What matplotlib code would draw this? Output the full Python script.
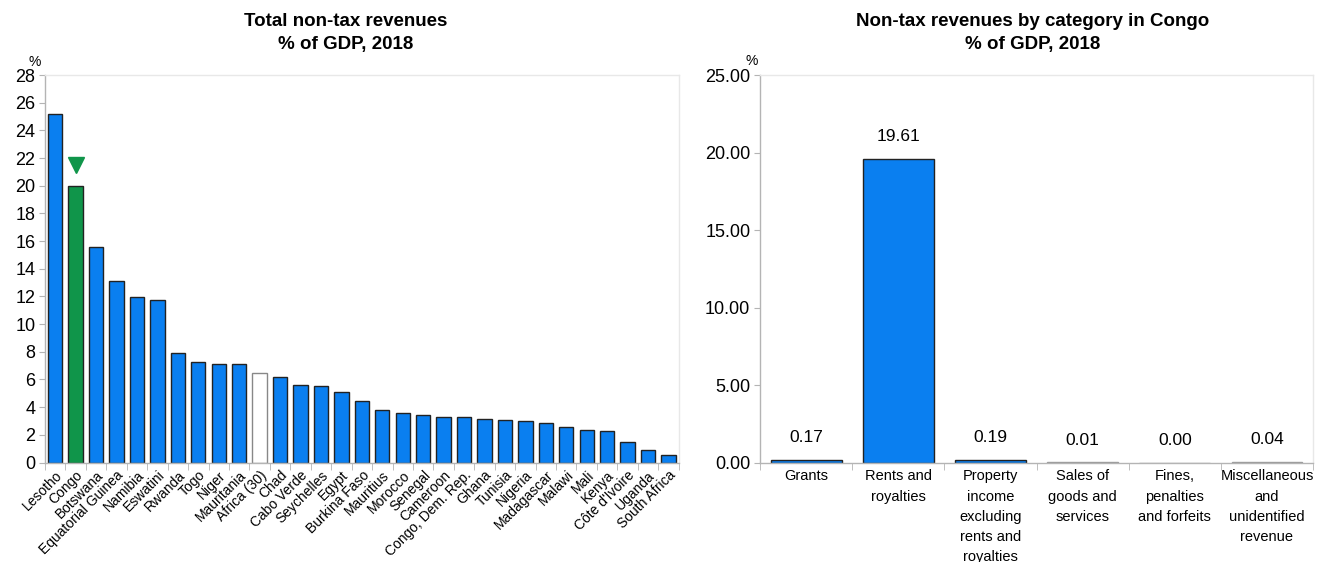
import matplotlib

matplotlib.use("Agg")
import matplotlib.pyplot as plt
import numpy as np

plt.rcParams["font.family"] = ["Liberation Sans", "DejaVu Sans"]

countries = [
    "Lesotho", "Congo", "Botswana", "Equatorial Guinea", "Namibia", "Eswatini",
    "Rwanda", "Togo", "Niger", "Mauritania", "Africa (30)", "Chad", "Cabo Verde",
    "Seychelles", "Egypt", "Burkina Faso", "Mauritius", "Morocco", "Senegal",
    "Cameroon", "Congo, Dem. Rep.", "Ghana", "Tunisia", "Nigeria", "Madagascar",
    "Malawi", "Mali", "Kenya", "Côte d'Ivoire", "Uganda", "South Africa",
]
total_nontax = [
    25.18, 20.00, 15.58, 13.10, 11.96, 11.72, 7.92, 7.29, 7.15, 7.13, 6.45,
    6.16, 5.61, 5.56, 5.10, 4.45, 3.76, 3.61, 3.47, 3.32, 3.27, 3.15, 3.08,
    3.03, 2.86, 2.60, 2.38, 2.31, 1.47, 0.94, 0.55,
]
highlight = "Congo"
average = "Africa (30)"
marker_value = 21.5

categories = [
    "Grants",
    "Rents and\nroyalties",
    "Property\nincome\nexcluding\nrents and\nroyalties",
    "Sales of\ngoods and\nservices",
    "Fines,\npenalties\nand forfeits",
    "Miscellaneous\nand\nunidentified\nrevenue",
]
congo_values = [0.17, 19.61, 0.19, 0.01, 0.00, 0.04]

BLUE = "#0a7ff0"
GREEN = "#10954a"
EDGE = "#222222"
AXIS = "#b4b4b4"
FRAME = "#e8e8e8"


def style_axes(ax):
    ax.spines["left"].set_color(AXIS)
    ax.spines["bottom"].set_color(AXIS)
    ax.spines["top"].set_color(FRAME)
    ax.spines["right"].set_color(FRAME)
    for s in ax.spines.values():
        s.set_linewidth(1.0)
    ax.tick_params(axis="y", which="major", length=4, color=AXIS, labelsize=13, pad=3)
    ax.tick_params(axis="x", which="major", length=0)
    ax.tick_params(axis="x", which="minor", length=5, color=AXIS)


fig = plt.figure(figsize=(13.23, 5.62), dpi=100)

# left panel
ax1 = fig.add_axes([0.034, 0.177, 0.479, 0.6895])
x = np.arange(len(countries))
colors = []
edges = []
for c in countries:
    if c == highlight:
        colors.append(GREEN)
        edges.append(EDGE)
    elif c == average:
        colors.append("white")
        edges.append("#888888")
    else:
        colors.append(BLUE)
        edges.append(EDGE)
ax1.bar(x, total_nontax, width=0.7, color=colors, edgecolor=edges, linewidth=1.0)
ci = countries.index(highlight)
ax1.plot([x[ci]], [marker_value], marker="v", markersize=12, color=GREEN, linestyle="none")
ax1.set_xlim(-0.5, len(countries) - 0.5)
ax1.set_ylim(0, 28)
ax1.set_yticks(np.arange(0, 29, 2))
ax1.set_xticks(x)
ax1.set_xticklabels(countries, rotation=45, ha="right", rotation_mode="anchor", fontsize=10)
ax1.set_xticks(np.arange(-0.5, len(countries), 1), minor=True)
style_axes(ax1)
ax1.tick_params(axis="x", which="major", pad=4)
fig.text(346 / 1323, 1 - 33 / 562, "Total non-tax revenues\n% of GDP, 2018", fontsize=13.5,
         fontweight="bold", ha="center", va="center", linespacing=1.45)
fig.text(35 / 1323, 1 - 62 / 562, "%", fontsize=10, ha="center", va="center")

# right panel
ax2 = fig.add_axes([0.5745, 0.177, 0.418, 0.6895])
x2 = np.arange(len(categories))
edge2 = [EDGE if v >= 0.1 else "#999999" for v in congo_values]
ax2.bar(x2, congo_values, width=0.77, color=BLUE, edgecolor=edge2, linewidth=1.0)
for xi, v in zip(x2, congo_values):
    ax2.annotate(f"{v:.2f}", (xi, v), xytext=(0, 16), textcoords="offset points",
                 ha="center", va="center", fontsize=12.5)
ax2.set_xlim(-0.5, len(categories) - 0.5)
ax2.set_ylim(0, 25)
ax2.set_yticks(np.arange(0, 26, 5))
ax2.set_yticklabels([f"{t:.2f}" for t in np.arange(0, 26, 5)])
ax2.set_xticks(x2)
ax2.set_xticklabels(categories, fontsize=10.5, linespacing=1.55, va="top")
ax2.set_xticks(np.arange(-0.5, len(categories), 1), minor=True)
style_axes(ax2)
ax2.tick_params(axis="x", which="major", pad=5)
fig.text(1033 / 1323, 1 - 33 / 562, "Non-tax revenues by category in Congo\n% of GDP, 2018",
         fontsize=13.5, fontweight="bold", ha="center", va="center", linespacing=1.45)
fig.text(752 / 1323, 1 - 61 / 562, "%", fontsize=10, ha="center", va="center")

fig.savefig("out.png", dpi=100)
